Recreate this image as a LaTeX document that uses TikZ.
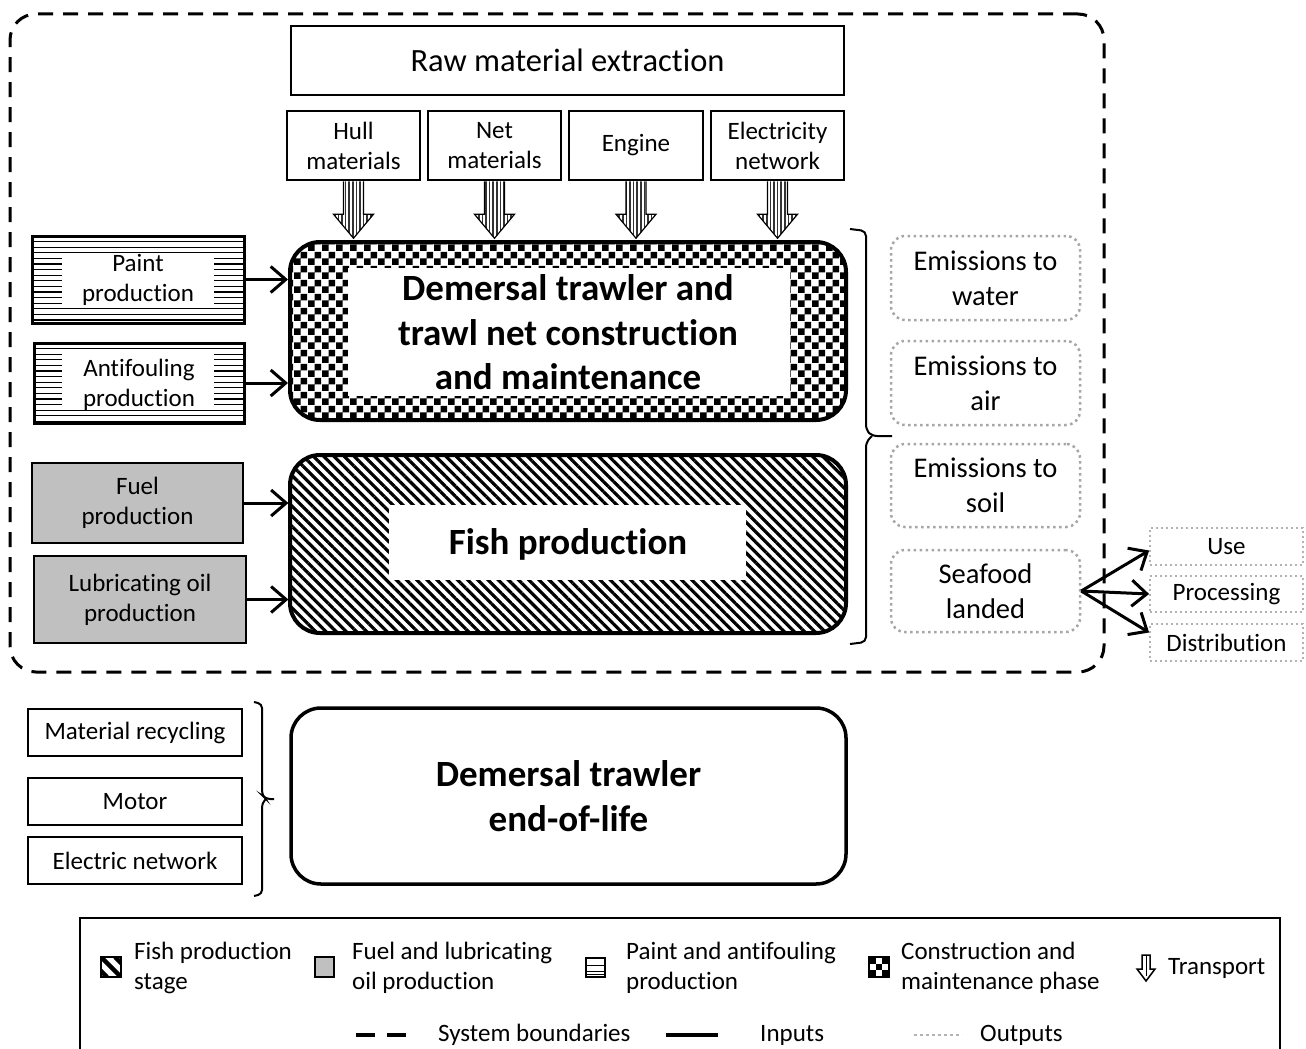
\documentclass[tikz,border=0pt]{standalone}
\usepackage{fontspec}
\setmainfont{Carlito}[Ligatures=NoCommon]
\usetikzlibrary{arrows.meta,patterns,patterns.meta,calc}
\pgfdeclarepatternformonly{bigchecker}{\pgfpointorigin}{\pgfqpoint{14pt}{14pt}}{\pgfqpoint{14pt}{14pt}}{%
 \pgfpathrectangle{\pgfpointorigin}{\pgfqpoint{7pt}{7pt}}%
 \pgfpathrectangle{\pgfqpoint{7pt}{7pt}}{\pgfqpoint{7pt}{7pt}}%
 \pgfusepath{fill}}
\newcommand\fsA{\fontsize{25}{30}\selectfont}
\newcommand\fsE{\fontsize{28.5}{35}\selectfont}
\newcommand\fsR{\fontsize{32.5}{39}\selectfont}
\newcommand\fsB{\fontsize{37}{44.5}\selectfont\bfseries}
\definecolor{fuelgray}{RGB}{192,192,192}
\tikzset{
 box/.style={draw, line width=2.5pt, inner sep=0pt, align=center, font=\fsA},
 stagebox/.style={draw, line width=4pt, rounded corners=30pt, inner sep=0pt},
 txt/.style={inner sep=0pt, align=center, font=\fsA},
 outbox/.style={draw=gray!70, line width=2.5pt, dash pattern=on 2.5pt off 3.5pt, rounded corners=14pt, align=center, font=\fsE, inner sep=0pt},
 outbox2/.style={draw=gray!60, line width=1.8pt, dash pattern=on 2pt off 3pt, font=\fsA, inner sep=0pt},
 inarrow/.style={line width=3pt, -{Straight Barb[length=15pt,width=26pt]}},
 hlines/.style={path picture={\foreach \k in {1,...,16} {\draw[line width=1.3pt] ([yshift=-\k*5.6pt]path picture bounding box.north west) -- ([yshift=-\k*5.6pt]path picture bounding box.north east);}}},
 tarrow/.pic={
  \path[pattern={Lines[angle=90,distance=3.6pt,line width=1.5pt]}, pattern color=gray!40!black]
    (-10,0) -- (10,0) -- (10,33) -- (20,33) -- (0,57) -- (-20,33) -- (-10,33) -- cycle;
  \draw[line width=1.2pt, line join=miter] (-10,0) -- (-10,33) -- (-20,33) -- (0,57) -- (20,33) -- (10,33) -- (10,0);
 },
 legtext/.style={inner sep=0pt, anchor=west, align=left, font=\fsA},
}
\begin{document}
\begin{tikzpicture}[x=1pt,y=-1pt]
\useasboundingbox (0,0) rectangle (1306,1049);

% system boundary
\node[draw, line width=3pt, dash pattern=on 15pt off 10pt, rounded corners=26pt, minimum width=1094pt, minimum height=658pt, inner sep=0pt] (sys) at (557,343) {};

% raw material
\node[box, font=\fsR, minimum width=553pt, minimum height=69pt] (raw) at (567.5,60.5) {Raw material extraction};
\node[box, minimum width=133pt, minimum height=69pt] (hull) at (353.5,145.5) {Hull\\materials};
\node[box, minimum width=133pt, minimum height=69pt] (net) at (494.5,145.5) {Net\\materials};
\node[box, minimum width=134pt, minimum height=69pt] (engine) at (636,145.5) {Engine};
\node[box, minimum width=133pt, minimum height=69pt] (elec) at (777.5,145.5) {Electricity\\network};

% construction stage
\node[stagebox, pattern=bigchecker, minimum width=556pt, minimum height=178pt] (cons) at (568,331) {};
\fill[white] (348,268) rectangle (790,396);
\node[txt, font=\fsB] (consT) at (568,332.5) {Demersal trawler and\\trawl net construction\\and maintenance};

% transport arrows
\foreach \n in {hull,net,engine,elec} { \pic at (\n.south) {tarrow}; }

% fish stage
\node[stagebox, pattern={Lines[angle=-45,distance=7.2pt,line width=3.2pt]}, pattern color=black, minimum width=556pt, minimum height=178pt] (fish) at (568,544) {};
\fill[white] (389,505) rectangle (746,580);
\node[txt, font=\fsB] (fishT) at (568,544) {Fish production};

% paint / antifouling
\node[draw, line width=3pt, hlines, minimum width=212pt, minimum height=87pt, inner sep=0pt] (paint) at (138,279.5) {};
\fill[white] (62,255) rectangle (214,308);
\node[txt] (paintT) at (138,280) {Paint\\production};
\node[draw, line width=3pt, hlines, minimum width=210pt, minimum height=80pt, inner sep=0pt] (anti) at (139,383) {};
\fill[white] (62,352) rectangle (214,407);
\node[txt] (antiT) at (139,385) {Antifouling\\production};

% fuel / lube
\node[box, fill=fuelgray, minimum width=211pt, minimum height=80pt] (fuel) at (137.5,503) {Fuel\\production};
\node[box, fill=fuelgray, minimum width=212pt, minimum height=87pt] (lube) at (140,599.5) {Lubricating oil\\production};

% input arrows
\draw[inarrow] (paint.east) -- (paint.east -| cons.west);
\draw[inarrow] (anti.east) -- (anti.east -| cons.west);
\draw[inarrow] (fuel.east) -- (fuel.east -| fish.west);
\draw[inarrow] (lube.east) -- (lube.east -| fish.west);

% brace right
\draw[line width=2pt, rounded corners=5pt] (850,229) -- (866,231) -- (866,430) -- (872,436) -- (892,436);
\draw[line width=2pt, rounded corners=5pt] (872,436) -- (866,442) -- (866,642) -- (850,644);

% outputs
\node[outbox, minimum width=189pt, minimum height=84pt] (ew) at (985.5,278) {Emissions to\\water};
\node[outbox, minimum width=189pt, minimum height=84pt] (ea) at (985.5,383) {Emissions to\\air};
\node[outbox, minimum width=189pt, minimum height=83pt] (es) at (985.5,485.5) {Emissions to\\soil};
\node[outbox, minimum width=189pt, minimum height=82pt] (sl) at (985.5,591) {Seafood\\landed};

\node[outbox2, minimum width=153pt, minimum height=37pt] (use) at (1226.5,546.5) {Use};
\node[outbox2, minimum width=153pt, minimum height=36pt] (proc) at (1226.5,594) {Processing};
\node[outbox2, minimum width=153pt, minimum height=37pt] (dist) at (1226.5,642.5) {Distribution};

\draw[inarrow] (sl.east) -- ([yshift=-4pt]use.west);
\draw[inarrow] (sl.east) -- (proc.west);
\draw[inarrow] (sl.east) -- ([yshift=10pt]dist.west);

% end of life
\node[box, minimum width=214pt, minimum height=47pt] (mr) at (135,732.5) {Material recycling};
\node[box, minimum width=214pt, minimum height=47pt] (motor) at (135,801.5) {Motor};
\node[box, minimum width=214pt, minimum height=47pt] (en) at (135,860.5) {Electric network};
\draw[line width=2pt, rounded corners=4pt] (254,702) -- (262,704) -- (262,795) -- (266,799) -- (274,799);
\draw[line width=2pt, rounded corners=4pt] (266,799) -- (262,803) -- (262,894) -- (254,896);
\node[draw, line width=3.5pt, rounded corners=30pt, minimum width=555pt, minimum height=176pt, inner sep=0pt, align=center, font=\fsB] (eol) at (568.5,796) {Demersal trawler\\end-of-life};

% legend
\draw[line width=2.5pt] (80,1055) -- (80,918) -- (1280,918) -- (1280,1055);
\begin{scope}
 \clip (101,957) rectangle (121,977);
 \fill[white] (101,957) rectangle (121,977);
 \foreach \d in {-14,0,14} { \draw[line width=4.5pt] (101+\d,957) -- (121+\d,977); }
\end{scope}
\draw[line width=2pt] (101,957) rectangle (121,977);
\node[legtext] (l1) at (134,968) {Fish production\\stage};
\draw[line width=1.3pt, fill=fuelgray] (315,957) rectangle (334,977);
\node[legtext] (l2) at (352,968) {Fuel and lubricating\\oil production};
\draw[line width=1.5pt] (586,958) rectangle (605,977);
\draw[line width=1pt] (586,965) -- (605,965) (586,971) -- (605,971) (586,974) -- (605,974);
\node[legtext] (l3) at (626,968) {Paint and antifouling\\production};
\fill[white] (869,957) rectangle (889,977);
\foreach \i/\j in {0/0,2/0,1/1,0/2,2/2} { \fill ({869+\i*6.67},{957+\j*6.67}) rectangle ++(6.67,6.67); }
\draw[line width=1.5pt] (869,957) rectangle (889,977);
\node[legtext] (l4) at (901,968) {Construction and\\maintenance phase};
\draw[line width=1.5pt, fill=white, line join=miter] (1142,955) -- (1150,955) -- (1150,969) -- (1155,969) -- (1146,981) -- (1137,969) -- (1142,969) -- cycle;
\draw[line width=0.8pt] (1146,956) -- (1146,976);
\node[legtext] (l5) at (1168,968) {Transport};
\draw[line width=3.5pt] (356,1035) -- (375,1035) (387,1035) -- (406,1035);
\node[legtext] (l6) at (438,1035) {System boundaries};
\draw[line width=3.5pt] (666,1035) -- (718,1035);
\node[legtext] (l7) at (760,1035) {Inputs};
\draw[line width=2.5pt, gray!60, dash pattern=on 3pt off 3pt] (914,1035) -- (962,1035);
\node[legtext] (l8) at (980,1035) {Outputs};
\end{tikzpicture}
\end{document}
